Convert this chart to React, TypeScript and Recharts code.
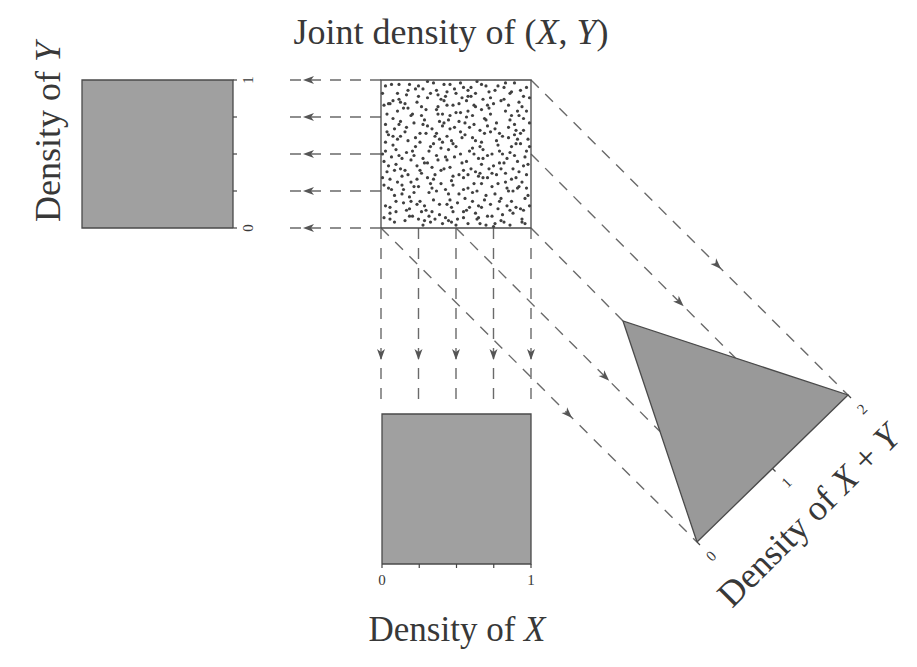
import { Area, ComposedChart, Line, Scatter, XAxis, YAxis } from "recharts";

// X and Y are uniform on [0, 1]
const UNIT_SUPPORT = [0, 1];
const UNIT_DENSITY = [1, 1];
const UNIT_TICKS = [0, 0.25, 0.5, 0.75, 1];
const UNIT_LABELS = ["0", "1"];
const UNIT_LABEL_AT = [0, 1];

// X + Y is triangular on [0, 2]
const SUM_SUPPORT = [0, 1, 2];
const SUM_DENSITY = [0, 1, 0];
const SUM_TICKS = [0, 1, 2];
const SUM_LABELS = ["0", "1", "2"];

// levels of x + y carried from the joint square onto the sum axis
const PROJ_LEVELS = [0, 0.5, 1, 1.5, 2];

// sample from the joint density, in hundredths
const JOINT_SAMPLE: [number, number][] = [
  [12, 87], [45, 23], [78, 56], [33, 91], [67, 14], [5, 42], [89, 70], [21, 8], [56, 63], [94, 31],
  [38, 77], [71, 49], [15, 26], [82, 95], [47, 4], [26, 58], [63, 82], [9, 67], [52, 36], [86, 12],
  [3, 15], [29, 44], [74, 28], [41, 69], [97, 52], [58, 93], [18, 81], [65, 7], [35, 19], [80, 40],
  [50, 55], [7, 97], [92, 85], [24, 33], [61, 24], [43, 48], [85, 61], [16, 5], [69, 74], [31, 88],
  [76, 3], [10, 53], [55, 11], [98, 22], [37, 64], [66, 37], [2, 29], [48, 83], [83, 79], [20, 46],
  [59, 68], [28, 2], [91, 45], [13, 72], [72, 92], [44, 16], [87, 33], [6, 84], [53, 50], [34, 27],
  [79, 18], [23, 61], [64, 99], [40, 39], [95, 66], [17, 12], [57, 75], [81, 9], [30, 80], [68, 53],
  [4, 38], [49, 94], [84, 47], [27, 76], [62, 30], [11, 60], [73, 65], [36, 6], [99, 88], [46, 41],
  [19, 21], [88, 25], [42, 86], [70, 2], [8, 74], [54, 44], [93, 13], [32, 52], [60, 89], [25, 96],
  [77, 71], [14, 35], [51, 17], [90, 57], [39, 9], [67, 43], [1, 91], [45, 73], [83, 37], [22, 24],
  [63, 59], [35, 98], [96, 3], [12, 49], [75, 84], [29, 15], [58, 27], [87, 92], [44, 62], [6, 6],
  [71, 34], [40, 54], [17, 90], [80, 20], [53, 78], [26, 39], [92, 76], [9, 22], [65, 47], [48, 11],
  [34, 67], [86, 51], [3, 58], [57, 86], [20, 31], [74, 8], [42, 97], [95, 42], [28, 70], [61, 18],
  [11, 79], [69, 64], [47, 32], [82, 4], [24, 85], [98, 60], [37, 25], [55, 95], [14, 47], [78, 30],
  [50, 2], [31, 34], [89, 98], [5, 63], [66, 55], [18, 93], [73, 16], [41, 77], [94, 82], [27, 11],
  [60, 40], [8, 86], [85, 68], [38, 46], [70, 96], [15, 17], [52, 23], [97, 36], [22, 71], [64, 6],
  [43, 89], [79, 44], [2, 7], [33, 55], [91, 27], [56, 71], [25, 28], [81, 62], [10, 43], [68, 87],
  [47, 59], [19, 13], [62, 50], [93, 93], [36, 36], [76, 23], [4, 77], [58, 3], [87, 55], [30, 64],
  [72, 81], [13, 40], [54, 88], [99, 15], [39, 72], [83, 98], [21, 52], [67, 30], [46, 19], [7, 26],
  [90, 66], [32, 8], [75, 42], [16, 65], [59, 14], [44, 83], [96, 48], [23, 94], [61, 61], [1, 50],
  [84, 27], [28, 47], [49, 68], [73, 77], [9, 4], [35, 33], [63, 91], [88, 10], [18, 59], [57, 45],
  [40, 30], [95, 74], [26, 18], [67, 58], [12, 97], [80, 86], [51, 6], [37, 80], [77, 36], [3, 70],
  [64, 25], [20, 76], [92, 38], [45, 53], [86, 2], [14, 29], [58, 79], [30, 12], [71, 69], [97, 95],
  [5, 84], [42, 40], [78, 13], [23, 55], [53, 98], [89, 49], [33, 4], [66, 66], [10, 18], [82, 87],
  [55, 34], [17, 68], [94, 6], [38, 90], [69, 19], [2, 45], [48, 57], [85, 83], [27, 37], [61, 76],
  [74, 50], [6, 14], [43, 26], [99, 71], [31, 99], [57, 12], [88, 40], [15, 81], [65, 35], [36, 62],
  [80, 5], [24, 42], [52, 84], [91, 60], [11, 31], [46, 67], [70, 22], [3, 96], [39, 16], [95, 89],
  [59, 52], [29, 73], [83, 31], [19, 8], [62, 70], [8, 56], [76, 93], [41, 3], [96, 20], [50, 78],
  [22, 28], [68, 47], [34, 11], [87, 76], [13, 62], [55, 39], [93, 57], [44, 92], [75, 1], [1, 34],
  [37, 49], [90, 14], [60, 95], [16, 39], [79, 64], [48, 29], [25, 89], [71, 83], [98, 43], [7, 48],
  [63, 10], [32, 24], [86, 91], [45, 5], [4, 65], [72, 40], [54, 61], [20, 18], [92, 28], [38, 82],
  [77, 59], [11, 91], [49, 48], [84, 15], [28, 94], [66, 3], [17, 51], [58, 36], [97, 79], [42, 71],
  [9, 39], [73, 88], [35, 57], [56, 20], [89, 63], [25, 6], [68, 34], [2, 83], [81, 50], [46, 97],
  [14, 23], [53, 65], [85, 25], [31, 44], [70, 73], [6, 10], [40, 87], [94, 4], [61, 54], [21, 77],
  [78, 96], [47, 14], [12, 70], [67, 80], [33, 30], [99, 55], [55, 7], [26, 64], [90, 34], [44, 46],
  [16, 84], [52, 72], [87, 18], [29, 5], [63, 38], [5, 27], [41, 58], [76, 67], [19, 97], [95, 12],
  [34, 41], [71, 8], [8, 62], [58, 89], [24, 16], [82, 44], [48, 35], [13, 85], [67, 97], [39, 60],
  [91, 79], [27, 82], [55, 26], [3, 52], [74, 37], [43, 7], [86, 73], [18, 36], [62, 83], [31, 69],
  [97, 27], [10, 11], [50, 91], [79, 52], [22, 49], [65, 15], [37, 93], [93, 64], [6, 33], [46, 76],
];

type Pt = { px: number; py: number };

// where each panel sits on the page
const joint = (x: number, y: number): Pt => ({ px: 381 + x * 150, py: 228 - y * 148 });
const leftPanel = (d: number, y: number): Pt => ({ px: 233 - d * 151, py: 228 - y * 148 });
const bottomPanel = (x: number, d: number): Pt => ({ px: 382 + x * 149, py: 564 - d * 150 });
const sumPanel = (s: number, d: number): Pt => ({
  px: 697 + s * 75.5 - d * 149.5,
  py: 542 - s * 73.5 - d * 147.5,
});

const interp = (xs: number[], ys: number[], v: number) => {
  for (let i = 0; i < xs.length - 1; i++) {
    if (v >= xs[i] && v <= xs[i + 1]) return ys[i] + ((ys[i + 1] - ys[i]) * (v - xs[i])) / (xs[i + 1] - xs[i]);
  }
  return 0;
};

// vertical extent of a polygon at each vertex x, for a range area
function band(poly: Pt[]) {
  const xs = Array.from(new Set(poly.map((p) => p.px))).sort((a, b) => a - b);
  return xs.map((x) => {
    const ys: number[] = [];
    poly.forEach((a, i) => {
      const b = poly[(i + 1) % poly.length];
      const lo = Math.min(a.px, b.px);
      const hi = Math.max(a.px, b.px);
      if (x < lo - 1e-6 || x > hi + 1e-6) return;
      if (hi - lo < 1e-6) ys.push(a.py, b.py);
      else ys.push(a.py + ((b.py - a.py) * (x - a.px)) / (b.px - a.px));
    });
    return { px: x, band: [Math.min(...ys), Math.max(...ys)] };
  });
}
const closed = (poly: Pt[]) => [...poly, poly[0]];

const lastU = UNIT_SUPPORT.length - 1;
const yPoly = [
  leftPanel(0, UNIT_SUPPORT[0]),
  ...UNIT_SUPPORT.map((y, i) => leftPanel(UNIT_DENSITY[i], y)),
  leftPanel(0, UNIT_SUPPORT[lastU]),
];
const xPoly = [
  bottomPanel(UNIT_SUPPORT[0], 0),
  ...UNIT_SUPPORT.map((x, i) => bottomPanel(x, UNIT_DENSITY[i])),
  bottomPanel(UNIT_SUPPORT[lastU], 0),
];
const sumPoly = SUM_SUPPORT.map((s, i) => sumPanel(s, SUM_DENSITY[i]));
const jointPoly = [joint(0, 0), joint(1, 0), joint(1, 1), joint(0, 1)];

const jointDots = JOINT_SAMPLE.map(([x, y]) => joint(x / 100, y / 100));

const toLeft = UNIT_TICKS.map((y) => [joint(0, y), { px: 282, py: joint(0, y).py }]);
const toBottom = UNIT_TICKS.map((x) => [joint(x, 0), { px: joint(x, 0).px, py: 405 }]);
const toSum = PROJ_LEVELS.map((s) => [
  s <= 1 ? joint(s, 0) : joint(1, s - 1),
  sumPanel(s, interp(SUM_SUPPORT, SUM_DENSITY, s)),
]);

const angleOf = (a: Pt, b: Pt) => (Math.atan2(b.py - a.py, b.px - a.px) * 180) / Math.PI;
const heads = [
  ...toLeft.map(([a, b]) => ({ px: 303, py: a.py, angle: angleOf(a, b) })),
  ...toBottom.map(([a, b]) => ({ px: a.px, py: 360, angle: angleOf(a, b) })),
  ...toSum
    .map(([a, b]) => {
      const t = (990 - (a.px + a.py)) / (b.px + b.py - (a.px + a.py));
      return { px: a.px + t * (b.px - a.px), py: a.py + t * (b.py - a.py), angle: angleOf(a, b), t };
    })
    .filter((h) => h.t > 0 && h.t < 1),
];

const tickMarks = [
  ...UNIT_TICKS.map((y) => ({ ...leftPanel(0, y), dx: 4, dy: 0 })),
  ...UNIT_TICKS.map((x) => ({ ...bottomPanel(x, 0), dx: 0, dy: 4 })),
  ...SUM_TICKS.map((s) => ({ ...sumPanel(s, 0), dx: 3, dy: 3 })),
];

const tickLabels = [
  ...UNIT_LABEL_AT.map((v, i) => {
    const p = leftPanel(0, v);
    return { px: p.px + 15, py: p.py, text: UNIT_LABELS[i], rot: -90 };
  }),
  ...UNIT_LABEL_AT.map((v, i) => {
    const p = bottomPanel(v, 0);
    return { px: p.px, py: p.py + 16, text: UNIT_LABELS[i], rot: 0 };
  }),
  ...SUM_TICKS.map((s, i) => {
    const p = sumPanel(s, 0);
    return { px: p.px + 14, py: p.py + 14, text: SUM_LABELS[i], rot: -45 };
  }),
];

const SERIF = "'Liberation Serif', 'DejaVu Serif', serif";
const INK = "#383838";
const DASH = "#6a6a6a";

const Dot = (p: any) => <circle cx={p.cx} cy={p.cy} r={1.6} fill="#404040" />;
const Head = (p: any) => (
  <path
    d="M0,0 L-11,-4 L-8,0 L-11,4 Z"
    transform={`translate(${p.cx},${p.cy}) rotate(${p.payload.angle})`}
    fill="#555"
  />
);
const Tick = (p: any) => (
  <line x1={p.cx} y1={p.cy} x2={p.cx + p.payload.dx} y2={p.cy + p.payload.dy} stroke="#444" strokeWidth={1.2} />
);
const TickText = (p: any) => (
  <text
    x={p.cx}
    y={p.cy}
    transform={`rotate(${p.payload.rot} ${p.cx} ${p.cy})`}
    textAnchor="middle"
    dominantBaseline="central"
    fontSize={15}
    fontFamily={SERIF}
    fill={INK}
    stroke="none"
  >
    {p.payload.text}
  </text>
);

const dashLine = (pts: Pt[], key: string) => (
  <Line
    key={key}
    data={pts}
    dataKey="py"
    type="linear"
    stroke={DASH}
    strokeWidth={1.4}
    strokeDasharray="11 9"
    dot={false}
    activeDot={false}
    isAnimationActive={false}
  />
);

const outline = (pts: Pt[], key: string) => (
  <Line
    key={key}
    data={closed(pts)}
    dataKey="py"
    type="linear"
    stroke="#4a4a4a"
    strokeWidth={1.3}
    dot={false}
    activeDot={false}
    isAnimationActive={false}
  />
);

const fillArea = (pts: Pt[], color: string) => (
  <Area
    data={band(pts)}
    dataKey="band"
    type="linear"
    fill={color}
    fillOpacity={1}
    stroke="none"
    dot={false}
    activeDot={false}
    isAnimationActive={false}
  />
);

export default function App() {
  return (
    <div style={{ position: "absolute", left: 0, top: 0, width: 917, height: 667, background: "#fff" }}>
      <ComposedChart width={917} height={667} margin={{ top: 0, right: 0, bottom: 0, left: 0 }}>
        <XAxis type="number" dataKey="px" domain={[0, 917]} hide />
        <YAxis type="number" dataKey="py" domain={[0, 667]} reversed hide />

        {fillArea(yPoly, "#a0a0a0")}
        {fillArea(xPoly, "#a0a0a0")}
        {fillArea(sumPoly, "#999999")}

        {toLeft.map((pts, i) => dashLine(pts, `l${i}`))}
        {toBottom.map((pts, i) => dashLine(pts, `b${i}`))}
        {toSum.map((pts, i) => dashLine(pts, `s${i}`))}

        {outline(yPoly, "oy")}
        {outline(xPoly, "ox")}
        {outline(sumPoly, "os")}
        {outline(jointPoly, "oj")}

        <Scatter data={jointDots} dataKey="py" shape={Dot} isAnimationActive={false} />
        <Scatter data={heads} dataKey="py" shape={Head} isAnimationActive={false} />
        <Scatter data={tickMarks} dataKey="py" shape={Tick} isAnimationActive={false} />
        <Scatter data={tickLabels} dataKey="py" shape={TickText} isAnimationActive={false} />
      </ComposedChart>

      <svg width={917} height={667} style={{ position: "absolute", left: 0, top: 0, pointerEvents: "none" }}>
        <g fontFamily={SERIF} fontSize={36} fill={INK}>
          <text x={451} y={44} textAnchor="middle">
            Joint density of (<tspan fontStyle="italic">X</tspan>, <tspan fontStyle="italic">Y</tspan>)
          </text>
          <text transform="translate(60,132) rotate(-90)" textAnchor="middle">
            Density of <tspan fontStyle="italic">Y</tspan>
          </text>
          <text x={457} y={641} textAnchor="middle" fontSize={35}>
            Density of <tspan fontStyle="italic">X</tspan>
          </text>
          <text transform="translate(817,524) rotate(-45)" textAnchor="middle">
            Density of <tspan fontStyle="italic">X</tspan> + <tspan fontStyle="italic">Y</tspan>
          </text>
        </g>
      </svg>
    </div>
  );
}
